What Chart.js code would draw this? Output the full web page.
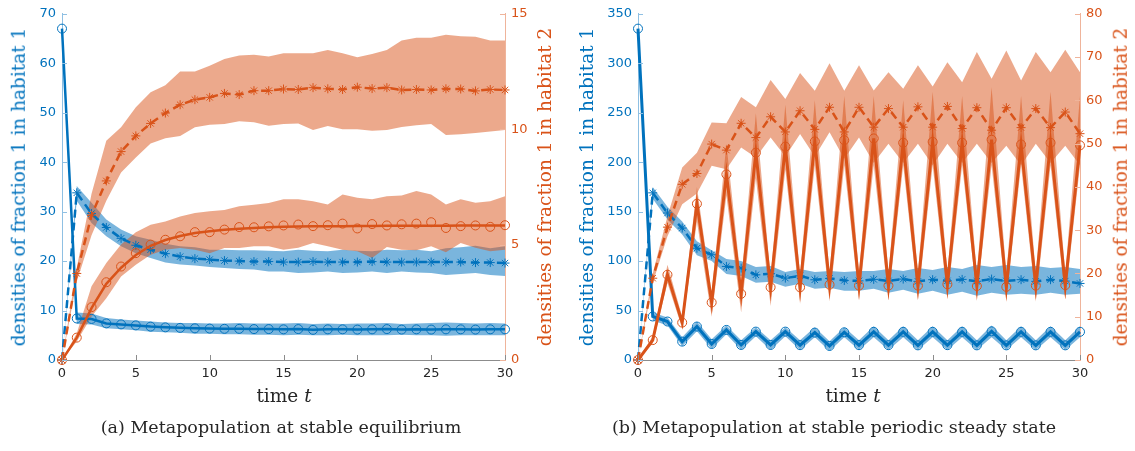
<!DOCTYPE html>
<html>
<head>
<meta charset="utf-8">
<script src="https://cdn.jsdelivr.net/npm/chart.js@4.4.0/dist/chart.umd.min.js"></script>
<style>
  body { margin: 0; background: #fff; width: 1135px; height: 451px; overflow: hidden; position: relative; }
  canvas { position: absolute; top: 0; }
  .lbl { position: absolute; white-space: nowrap; font-family: "DejaVu Serif", serif; line-height: 1; transform: translate(-50%, -50%); }
  .rot { transform: translate(-50%, -50%) rotate(-90deg); font-size: 18.5px; }
  .xt { font-size: 18.5px; color: #262626; }
  .cap { font-size: 17.5px; color: #262626; }
</style>
</head>
<body>
<canvas id="chartA" width="567" height="451" style="left:0"></canvas>
<canvas id="chartB" width="568" height="451" style="left:567px"></canvas>

<div class="lbl rot" style="left:19px; top:187px; color:#0072BD">densities of fraction 1 in habitat 1</div>
<div class="lbl rot" style="left:545px; top:187px; color:#D95319">densities of fraction 1 in habitat 2</div>
<div class="lbl rot" style="left:587px; top:187px; color:#0072BD">densities of fraction 1 in habitat 1</div>
<div class="lbl rot" style="left:1121px; top:187px; color:#D95319">densities of fraction 1 in habitat 2</div>
<div class="lbl xt" style="left:284px; top:396px">time <i>t</i></div>
<div class="lbl xt" style="left:853px; top:396px">time <i>t</i></div>
<div class="lbl cap" style="left:281px; top:428px">(a) Metapopulation at stable equilibrium</div>
<div class="lbl cap" style="left:834px; top:428px">(b) Metapopulation at stable periodic steady state</div>

<script>
const times = [0,1,2,3,4,5,6,7,8,9,10,11,12,13,14,15,16,17,18,19,20,21,22,23,24,25,26,27,28,29,30];

// (a) stable equilibrium -- blue on left axis, orange on right axis
const aBlueSolid   = [67, 8.4, 8.3, 7.4, 7.2, 7.0, 6.75, 6.6, 6.5, 6.4, 6.35, 6.3, 6.3, 6.25, 6.25, 6.2, 6.25, 6.1, 6.2, 6.2, 6.15, 6.2, 6.25, 6.15, 6.2, 6.15, 6.2, 6.2, 6.15, 6.2, 6.2];
const aBlueSolidHi = [67, 9.6, 9.4, 8.5, 8.2, 8.0, 7.8, 7.6, 7.5, 7.5, 7.4, 7.4, 7.5, 7.4, 7.4, 7.4, 7.5, 7.3, 7.4, 7.3, 7.4, 7.4, 7.5, 7.3, 7.4, 7.5, 7.6, 7.5, 7.4, 7.5, 7.4];
const aBlueSolidLo = [67, 7.3, 7.2, 6.4, 6.2, 6.0, 5.7, 5.6, 5.5, 5.3, 5.3, 5.2, 5.2, 5.1, 5.1, 5.0, 5.1, 5.0, 5.0, 5.1, 5.0, 5.0, 5.0, 5.1, 5.0, 5.0, 4.9, 5.0, 5.0, 5.0, 5.0];
const aBlueDash    = [0, 33.8, 29.6, 26.8, 24.6, 23.2, 22.3, 21.5, 20.9, 20.5, 20.3, 20.1, 20.0, 19.9, 19.9, 19.8, 19.8, 19.9, 19.8, 19.8, 19.8, 19.9, 19.8, 19.8, 19.8, 19.8, 19.8, 19.8, 19.7, 19.7, 19.6];
const aBlueDashHi  = [0, 35.2, 31.8, 28.4, 26.4, 25.0, 24.3, 23.5, 23.0, 22.8, 22.3, 22.3, 22.2, 22.2, 22.1, 22.0, 22.3, 22.1, 22.0, 22.3, 22.1, 22.0, 22.3, 22.2, 22.3, 22.0, 22.6, 22.8, 23.1, 22.6, 23.0];
const aBlueDashLo  = [0, 32.2, 27.7, 25.0, 23.0, 21.6, 20.6, 19.7, 19.3, 19.1, 18.8, 18.6, 18.4, 18.3, 17.9, 17.9, 17.6, 17.7, 17.9, 17.6, 17.7, 17.9, 17.6, 17.9, 17.7, 17.6, 17.2, 17.4, 17.6, 17.2, 17.0];
const aOrangeLine  = [0, 0.97, 2.25, 3.3, 4.0, 4.55, 4.95, 5.2, 5.37, 5.5, 5.58, 5.64, 5.69, 5.72, 5.75, 5.77, 5.78, 5.79, 5.8, 5.8, 5.81, 5.81, 5.82, 5.82, 5.82, 5.82, 5.82, 5.83, 5.83, 5.83, 5.83];
const aOrangeCirc  = [0, 0.97, 2.29, 3.37, 4.05, 4.63, 5.0, 5.21, 5.36, 5.54, 5.54, 5.65, 5.76, 5.75, 5.79, 5.83, 5.87, 5.8, 5.84, 5.91, 5.7, 5.89, 5.83, 5.88, 5.91, 5.97, 5.72, 5.8, 5.83, 5.77, 5.84];
const aOrangeHi    = [0, 1.16, 3.19, 4.2, 5.0, 5.53, 5.86, 6.0, 6.22, 6.37, 6.44, 6.5, 6.66, 6.73, 6.8, 6.96, 6.96, 6.88, 6.74, 7.17, 7.03, 6.96, 7.1, 7.13, 7.32, 7.17, 6.74, 6.96, 6.81, 6.88, 7.1];
const aOrangeLo    = [0, 0.8, 1.88, 2.68, 3.62, 4.13, 4.56, 4.78, 4.85, 4.78, 4.63, 4.85, 4.85, 4.93, 4.93, 4.78, 4.86, 5.07, 4.93, 4.78, 4.71, 4.42, 4.9, 4.78, 4.75, 4.93, 4.67, 5.07, 4.86, 4.71, 4.78];
const aOrangeDash  = [0, 3.75, 6.27, 7.76, 9.03, 9.71, 10.25, 10.7, 11.06, 11.28, 11.38, 11.55, 11.5, 11.67, 11.67, 11.74, 11.72, 11.8, 11.75, 11.72, 11.82, 11.76, 11.8, 11.7, 11.72, 11.7, 11.75, 11.74, 11.66, 11.72, 11.7];
const aOrangeDashHi = [0, 4.0, 7.2, 9.5, 10.08, 10.95, 11.6, 11.9, 12.5, 12.5, 12.75, 13.04, 13.19, 13.23, 13.15, 13.29, 13.29, 13.29, 13.43, 13.29, 13.12, 13.26, 13.43, 13.84, 13.96, 13.96, 14.09, 14.03, 14.01, 13.84, 13.84];
const aOrangeDashLo = [0, 3.4, 5.4, 6.9, 8.12, 8.77, 9.38, 9.61, 9.71, 10.08, 10.19, 10.22, 10.34, 10.3, 10.15, 10.22, 10.25, 9.97, 10.14, 10.0, 10.0, 9.93, 9.97, 10.1, 10.17, 10.22, 9.75, 9.78, 9.84, 9.9, 9.97];

// (b) stable periodic steady state
const bBlueSolid   = [335, 44, 38.9, 18.6, 33.8, 16.2, 30.4, 15.2, 28.7, 15.2, 28.7, 15.0, 27.7, 14.2, 28.0, 15.0, 28.5, 15.0, 28.5, 14.8, 28.5, 15.0, 28.5, 14.8, 29.0, 14.8, 28.5, 14.8, 28.5, 14.8, 28.5];
const bBlueSolidHi = [335, 48, 43, 23, 39, 21, 35, 20, 33, 20, 33, 20, 33, 19, 33, 20, 34, 20, 34, 20, 34, 20, 34, 20, 35, 20, 34, 20, 34, 20, 34];
const bBlueSolidLo = [335, 40, 35, 14, 29, 11, 26, 10, 24, 10, 24, 10, 23, 9, 23, 10, 23, 10, 23, 10, 23, 10, 23, 10, 23, 10, 23, 10, 23, 10, 23];
const bBlueDash    = [0, 169, 148.6, 133.4, 113, 106.4, 94.6, 92.9, 86.1, 87.2, 82.8, 85.1, 81.1, 82.5, 80.4, 80, 81.5, 80, 81.8, 79.5, 81.2, 80, 81.5, 79.6, 81.8, 80, 81.2, 79.5, 81.2, 79.8, 77.4];
const bBlueDashHi  = [0, 175, 155, 140, 120, 111, 102, 100, 94, 95, 89, 92, 89, 90, 89, 90, 90, 92, 90, 93, 91, 94, 92, 96, 94, 96, 94, 95, 93, 94, 92];
const bBlueDashLo  = [0, 163, 142, 127, 106, 100, 87, 85, 78, 79, 74, 77, 72, 73, 70, 70, 72, 68, 71, 67, 70, 66, 69, 65, 68, 66, 67, 66, 68, 66, 67];
const bOrangeSolid = [0, 4.6, 19.7, 8.65, 36.1, 13.3, 42.9, 15.3, 47.9, 16.8, 49.3, 16.8, 50.5, 17.4, 50.8, 17.2, 51.2, 17.2, 50.2, 17.2, 50.4, 17.5, 50.2, 17.1, 50.9, 16.9, 49.8, 17.2, 50.2, 17.3, 49.6];
const bOrangeHi    = [0, 5.5, 22, 10, 40, 15.5, 50, 18, 57, 19, 59, 19.5, 60, 20, 61, 20, 61, 20, 60, 20, 62, 20, 61, 20, 63, 20, 61, 20, 62, 20, 61];
const bOrangeLo    = [0, 3.8, 17.8, 7.3, 32, 10, 38, 11, 42, 12.5, 44, 13, 45, 13.5, 45, 14, 45, 13.8, 45, 14, 45, 14, 45, 14.5, 45, 13.8, 45, 13.5, 45, 14, 45];
const bOrangeDash  = [0, 18.9, 30.7, 40.6, 43.1, 49.9, 48.5, 54.7, 51.4, 56.2, 52.7, 57.6, 53.3, 58.4, 52.7, 58.4, 53.8, 58.1, 53.8, 58.5, 53.8, 58.6, 53.5, 58.3, 53.1, 58.3, 53.7, 58.1, 53.7, 57.3, 52.3];
const bOrangeDashHi = [0, 20, 33.2, 44.5, 47.9, 54.9, 54.7, 60.8, 58.4, 64.7, 60.3, 66.3, 62.2, 68.6, 62.2, 68.1, 62.3, 66.5, 62.7, 68.1, 63.2, 68.8, 64.2, 71.2, 65, 71.5, 64.6, 71.2, 66.5, 71.7, 66.5];
const bOrangeDashLo = [0, 17.8, 28.6, 36, 38.5, 44.9, 44.1, 49.1, 46.8, 51.4, 47, 52.2, 47, 52.6, 46.5, 51.4, 45.5, 50, 45.5, 50, 45, 50, 45.5, 50, 45.5, 49.5, 45, 50, 45.5, 49.5, 45];

const xTicks = [0, 5, 10, 15, 20, 25, 30];

const BLUE = '#0072BD';
const ORANGE = '#D95319';
const BLUE_BAND = 'rgba(0,114,189,0.52)';
const ORANGE_BAND = 'rgba(217,83,25,0.5)';

function pts(arr) {
    return arr.map((v, i) => ({ x: times[i], y: v }));
}

function line(arr, axis, color, opts) {
    return Object.assign({
        data: pts(arr),
        yAxisID: axis,
        borderColor: color,
        borderWidth: 2.5,
        pointRadius: 4.5,
        pointBorderWidth: 1,
        pointBorderColor: color,
        pointBackgroundColor: 'rgba(0,0,0,0)',
        tension: 0,
        fill: false,
        clip: false
    }, opts || {});
}

// two datasets: upper edge filled down to the lower edge
function band(hi, lo, axis, color) {
    return [
        { data: pts(hi), yAxisID: axis, borderWidth: 0, pointRadius: 0, backgroundColor: color, fill: '+1', tension: 0 },
        { data: pts(lo), yAxisID: axis, borderWidth: 0, pointRadius: 0, fill: false, tension: 0 }
    ];
}

// MATLAB-style ticks pointing into the plot
const inwardTicks = {
    id: 'inwardTicks',
    afterDatasetsDraw(chart) {
        const { ctx, chartArea: a, scales } = chart;
        ctx.save();
        ctx.lineWidth = 1;
        Object.values(scales).forEach(s => {
            ctx.strokeStyle = s.options.border.color;
            s.ticks.forEach(t => {
                const p = Math.round(s.getPixelForValue(t.value)) + 0.5;
                ctx.beginPath();
                if (s.axis === 'x') { ctx.moveTo(p, a.bottom); ctx.lineTo(p, a.bottom - 5); }
                else if (s.position === 'left') { ctx.moveTo(a.left, p); ctx.lineTo(a.left + 5, p); }
                else { ctx.moveTo(a.right, p); ctx.lineTo(a.right - 5, p); }
                ctx.stroke();
            });
        });
        ctx.restore();
    }
};

function makeChart(id, ds, leftMax, leftStep, rightMax, rightStep, leftW, rightW) {
    const tickFont = { family: 'DejaVu Sans', size: 13 };
    return new Chart(document.getElementById(id), {
        type: 'line',
        data: { datasets: ds },
        options: {
            responsive: false,
            animation: false,
            layout: { padding: { top: 13, left: 0, right: 0, bottom: 0 } },
            plugins: { legend: { display: false }, tooltip: { enabled: false } },
            scales: {
                x: {
                    type: 'linear', min: 0, max: 30,
                    afterBuildTicks: s => { s.ticks = xTicks.map(v => ({ value: v })); },
                    grid: { drawOnChartArea: false, drawTicks: false },
                    border: { color: '#8c8c8c' },
                    ticks: { color: '#262626', font: tickFont, padding: 6, maxRotation: 0 },
                    afterFit: s => { s.height = 91; }
                },
                y: {
                    position: 'left', min: 0, max: leftMax,
                    grid: { drawOnChartArea: false, drawTicks: false },
                    border: { color: '#8fc0e3' },
                    ticks: { color: BLUE, font: tickFont, stepSize: leftStep, padding: 6 },
                    afterFit: s => { s.width = leftW; }
                },
                y1: {
                    position: 'right', min: 0, max: rightMax,
                    grid: { drawOnChartArea: false, drawTicks: false },
                    border: { color: '#efb49b' },
                    ticks: { color: ORANGE, font: tickFont, stepSize: rightStep, padding: 6 },
                    afterFit: s => { s.width = rightW; }
                }
            }
        },
        plugins: [inwardTicks]
    });
}

const dsA = [
    line(aOrangeLine, 'y1', ORANGE, { pointRadius: 0 }),
    line(aOrangeCirc, 'y1', ORANGE, { showLine: false, pointStyle: 'circle' }),
    line(aOrangeDash, 'y1', ORANGE, { borderDash: [8, 5], pointStyle: 'star' }),
    line(aBlueSolid, 'y', BLUE, { pointStyle: 'circle' }),
    line(aBlueDash, 'y', BLUE, { borderDash: [8, 5], pointStyle: 'star' }),
    ...band(aOrangeHi, aOrangeLo, 'y1', ORANGE_BAND),
    ...band(aOrangeDashHi, aOrangeDashLo, 'y1', ORANGE_BAND),
    ...band(aBlueSolidHi, aBlueSolidLo, 'y', BLUE_BAND),
    ...band(aBlueDashHi, aBlueDashLo, 'y', BLUE_BAND)
];

const dsB = [
    line(bOrangeSolid, 'y1', ORANGE, { pointStyle: 'circle', borderWidth: 3 }),
    line(bOrangeDash, 'y1', ORANGE, { borderDash: [8, 5], pointStyle: 'star' }),
    line(bBlueSolid, 'y', BLUE, { pointStyle: 'circle', borderWidth: 3 }),
    line(bBlueDash, 'y', BLUE, { borderDash: [8, 5], pointStyle: 'star' }),
    ...band(bOrangeHi, bOrangeLo, 'y1', ORANGE_BAND),
    ...band(bOrangeDashHi, bOrangeDashLo, 'y1', ORANGE_BAND),
    ...band(bBlueSolidHi, bBlueSolidLo, 'y', BLUE_BAND),
    ...band(bBlueDashHi, bBlueDashLo, 'y', BLUE_BAND)
];

makeChart('chartA', dsA, 70, 10, 15, 5, 62, 62);
makeChart('chartB', dsB, 350, 50, 80, 10, 71, 55);
</script>
</body>
</html>
